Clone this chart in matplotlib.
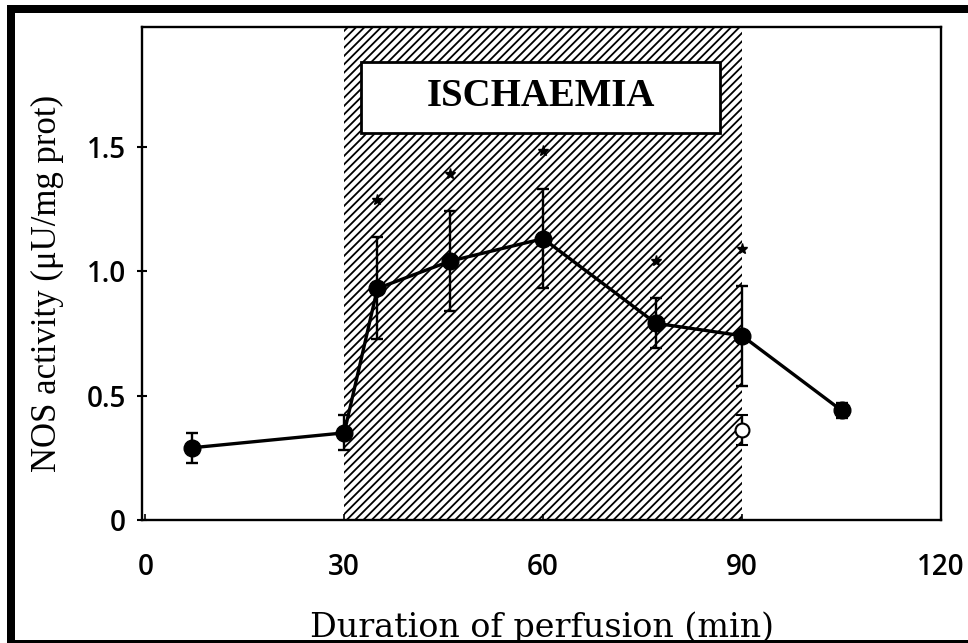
import matplotlib
matplotlib.use("Agg")
import matplotlib.pyplot as plt
from matplotlib.patches import Rectangle

# NOS activity during perfusion, mean +/- SEM
time_min = [7, 30, 35, 46, 60, 77, 90, 105]
nos_activity = [0.29, 0.35, 0.93, 1.04, 1.13, 0.79, 0.74, 0.44]
nos_sem = [0.06, 0.07, 0.205, 0.2, 0.2, 0.1, 0.2, 0.03]
significant = [False, False, True, True, True, True, True, False]

# separate measurement at 90 min (open circle)
open_time = [90]
open_activity = [0.36]
open_sem = [0.06]

ischaemia_start, ischaemia_end = 30, 90
x_ticks = [0, 30, 60, 90, 120]
y_ticks = [0, 0.5, 1.0, 1.5]
y_ticklabels = ["0", "0.5", "1.0", "1.5"]

plt.rcParams['hatch.linewidth'] = 1.3
plt.rcParams['hatch.color'] = 'black'

fig = plt.figure(figsize=(9.68, 6.43), dpi=100)
ax = fig.add_axes([142/968, 1 - 520/643, (941 - 142)/968, (520 - 27)/643])

# hatched ischaemia period
ax.axvspan(ischaemia_start, ischaemia_end, facecolor='white', edgecolor='black',
           hatch='////', linewidth=0, zorder=0)

# label box inside the hatched area
ax.add_patch(Rectangle((32.6, 1.555), 54.1, 0.285, facecolor='white',
                       edgecolor='black', linewidth=2, zorder=2))
ax.text(59.7, 1.70, "ISCHAEMIA", ha='center', va='center', fontsize=28,
        fontweight='bold', family='Liberation Serif', zorder=3)

ax.errorbar(time_min, nos_activity, yerr=nos_sem, fmt='-o', color='black',
            markersize=12, linewidth=2.4, elinewidth=1.7, capsize=4,
            capthick=1.7, zorder=4)
ax.errorbar(open_time, open_activity, yerr=open_sem, fmt='o', color='black',
            markerfacecolor='white', markeredgewidth=1.5, markersize=10,
            elinewidth=1.7, capsize=4, capthick=1.7, zorder=4)

# significance stars above the error bars
for t, m, s, sig in zip(time_min, nos_activity, nos_sem, significant):
    if sig:
        ax.plot(t, m + s + 0.15, marker='*', color='black', markersize=8,
                zorder=4)

ax.set_xlim(-0.5, 120)
ax.set_ylim(0, 1.98)
ax.set_xticks(x_ticks)
ax.set_yticks(y_ticks)
ax.set_yticklabels(y_ticklabels)

for spine in ax.spines.values():
    spine.set_linewidth(1.7)

ax.tick_params(axis='x', direction='in', length=4, width=1.2, pad=24,
               labelsize=20)
ax.tick_params(axis='y', direction='inout', length=7, width=1.5, pad=8,
               labelsize=20)
for lbl in ax.get_xticklabels() + ax.get_yticklabels():
    lbl.set_family('Open Sans')
    lbl.set_fontweight('semibold')

ax.set_xlabel("Duration of perfusion (min)", family='DejaVu Serif',
              fontsize=24, labelpad=21)
ax.set_ylabel("NOS activity (\u03bcU/mg prot)", family='Liberation Serif',
              fontsize=25)
ax.yaxis.set_label_coords(-0.098, 0.48)

# black frame around the figure (left, top, bottom)
W, H = 968, 643
for x0, y0, x1, y1 in [(7, 5, 15, 640), (7, 5, 968, 13), (7, 640, 968, 643)]:
    fig.add_artist(Rectangle((x0/W, 1 - y1/H), (x1 - x0)/W, (y1 - y0)/H,
                             transform=fig.transFigure, facecolor='black',
                             edgecolor='none'))

fig.savefig("out.png", dpi=100)
